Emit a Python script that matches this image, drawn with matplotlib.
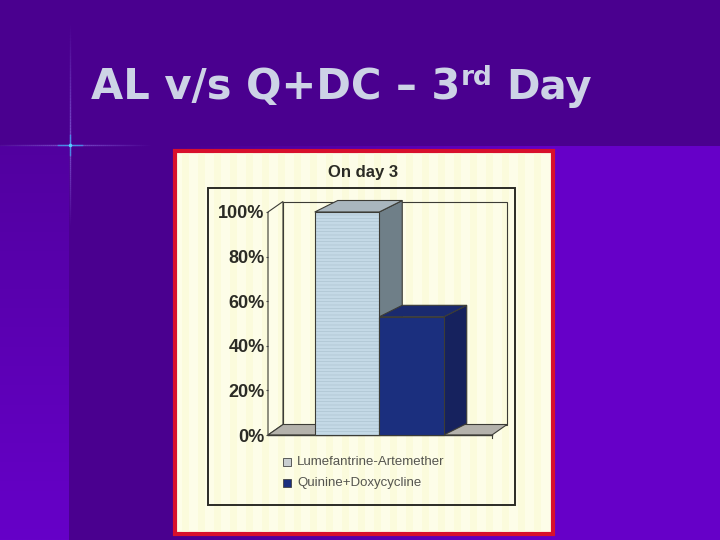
# slide with a scanned 3d bar chart
import numpy as np
import matplotlib
matplotlib.use("Agg")
from matplotlib import pyplot as plt
from matplotlib.patches import Polygon, Rectangle

plt.rcParams["hatch.linewidth"] = 0.4

slide_title = "AL v/s Q+DC – 3"
chart_title = "On day 3"
treatments = ["Lumefantrine-Artemether", "Quinine+Doxycycline"]
percent_day3 = [100, 53]
y_ticks = [0, 20, 40, 60, 80, 100]
y_tick_labels = ["0%", "20%", "40%", "60%", "80%", "100%"]

front_colors = ["#c4d9e6", "#1b2f7e"]
top_colors = ["#a9b6be", "#1a2a6e"]
side_colors = ["#6f7f88", "#16225e"]

W, H = 720, 540
fig = plt.figure(figsize=(7.2, 5.4), dpi=100)

# page layer, works in pixels
bg = fig.add_axes([0, 0, 1, 1])
bg.set_xlim(0, W)
bg.set_ylim(H, 0)
bg.axis("off")

# background
grad = np.linspace(0, 1, 256)
dark = np.array([0x4a, 0x00, 0x90]) / 255
light = np.array([0x66, 0x00, 0xc8]) / 255
bg.imshow((dark + (light - dark) * grad[:, None])[:, None, :], extent=[0, 69, 540, 0], aspect="auto", zorder=0)
bg.imshow((dark + (light - dark) * grad[:, None])[None, :, :], extent=[173, 553, 540, 146], aspect="auto", zorder=0)
bg.add_patch(Rectangle((69, 146), 104, 394, fc="#4a008f", ec="none", zorder=1))
bg.add_patch(Rectangle((553, 146), 167, 394, fc="#6600c8", ec="none", zorder=1))
bg.add_patch(Rectangle((0, 0), 720, 146, fc="#4a008f", ec="none", zorder=1))
bg.set_xlim(0, W)
bg.set_ylim(H, 0)

# the little star
star = "#8a6ae0"
for i in range(40):
    a = 0.75 * (1 - i / 40)
    bg.plot([70 - 2 * i, 70 - 2 * i - 2], [145, 145], color=star, alpha=a, lw=1, zorder=2, solid_capstyle="butt")
    bg.plot([70 + 2 * i, 70 + 2 * i + 2], [145, 145], color=star, alpha=a, lw=1, zorder=2, solid_capstyle="butt")
    bg.plot([70, 70], [145 - 3 * i, 145 - 3 * i - 3], color=star, alpha=a, lw=1, zorder=2, solid_capstyle="butt")
    bg.plot([70, 70], [145 + 2 * i, 145 + 2 * i + 2], color=star, alpha=a, lw=1, zorder=2, solid_capstyle="butt")
bg.plot([58, 82], [145, 145], color="#3aa6f5", alpha=0.7, lw=1, zorder=2)
bg.plot([70, 70], [135, 155], color="#3aa6f5", alpha=0.7, lw=1, zorder=2)
bg.plot([70], [145], "o", ms=2.5, color="#55d0ff", mew=0, zorder=2)

# slide title
title_col = "#cdd3e6"
t_kw = dict(color=title_col, fontweight="bold", family="DejaVu Sans", va="baseline", zorder=3)
bg.text(91, 99, slide_title, fontsize=30, **t_kw)
bg.text(461, 85, "rd", fontsize=19, **t_kw)
bg.text(506, 99, "Day", fontsize=29, **t_kw)

# scanned paper
bg.add_patch(Rectangle((174.5, 150.5), 378, 383, fc="#fdfde8", ec="#d8102c", lw=3, zorder=3))
for sx in range(182, 548, 16):
    bg.add_patch(Rectangle((sx, 153), 7, 379, fc="#fafad2", ec="none", alpha=0.5, zorder=3))
bg.add_patch(Rectangle((208, 188), 307, 317, fc="none", ec="#2b2b25", lw=1.4, zorder=4))
bg.text(363, 172, chart_title, ha="center", va="center", fontsize=12, fontweight="bold",
        family="Liberation Sans", color="#2b2b25", zorder=4)

# chart layer, x in bar widths, y in percent
left, right, base, top = 268, 492, 435, 212
ax = fig.add_axes([left / W, 1 - base / H, (right - left) / W, (base - top) / H])
bar_w = 64.5
ax.set_xlim((left - 347) / bar_w, (right - 347) / bar_w)
ax.set_ylim(0, 100)
ax.patch.set_alpha(0)
for s in ax.spines.values():
    s.set_visible(False)
ax.set_xticks([])
ax.set_yticks(y_ticks)
ax.set_yticklabels(y_tick_labels, fontsize=13, fontweight="bold", family="Liberation Sans", color="#2b2b25")
ax.tick_params(axis="y", length=1.5, width=0.8, color="#444444", pad=1)

x0, x1 = ax.get_xlim()
wall_dx = 15 / bar_w
wall_dy = 10.5 / 2.23
line = "#3c3c36"
poly_kw = dict(closed=True, clip_on=False, lw=0.8, edgecolor=line)
# back wall, side wall and floor
ax.add_patch(Polygon([(x0 + wall_dx, wall_dy), (x1 + wall_dx, wall_dy), (x1 + wall_dx, 100 + wall_dy), (x0 + wall_dx, 100 + wall_dy)],
                     facecolor="none", zorder=1, **poly_kw))
ax.add_patch(Polygon([(x0, 0), (x0 + wall_dx, wall_dy), (x0 + wall_dx, 100 + wall_dy), (x0, 100)],
                     facecolor="none", zorder=1, **poly_kw))
ax.add_patch(Polygon([(x0, 0), (x0 + wall_dx, wall_dy), (x1 + wall_dx, wall_dy), (x1, 0)],
                     facecolor="#b4b2ac", zorder=1, **poly_kw))
ax.plot([x1, x1], [0, -1.2], color=line, lw=0.8, clip_on=False, zorder=1)
ax.plot([x0, x1], [0, 0], color=line, lw=1, clip_on=False, zorder=1)

# bars with depth faces, the scan gives the light one fine lines
depth_dx = 23 / bar_w
depth_dy = 11.5 / 2.23
hatches = ["-----", None]
for i, v in enumerate(percent_day3):
    l, r = i - 0.5, i + 0.5
    ax.add_patch(Polygon([(r, 0), (r + depth_dx, depth_dy), (r + depth_dx, v + depth_dy), (r, v)],
                         facecolor=side_colors[i], zorder=3 + i, **poly_kw))
    ax.add_patch(Polygon([(l, v), (l + depth_dx, v + depth_dy), (r + depth_dx, v + depth_dy), (r, v)],
                         facecolor=top_colors[i], zorder=3 + i, **poly_kw))
    ax.bar(i, v, width=1, color=front_colors[i], edgecolor="#a9bfcc" if i == 0 else line,
           linewidth=0.4, hatch=hatches[i], zorder=3 + i, clip_on=False)
    ax.add_patch(Rectangle((l, 0), 1, v, fc="none", ec=line, lw=0.8, zorder=3 + i, clip_on=False))

# legend
for yy, name, col in zip([462, 483], treatments, ["#c9ced0", "#1b2f7e"]):
    bg.add_patch(Rectangle((283, yy - 4), 8, 8, fc=col, ec="#444444", lw=0.6, zorder=4))
    bg.text(297, yy, name, fontsize=9.5, family="Liberation Sans", color="#55554f", va="center", zorder=4)

fig.savefig("out.png", dpi=100)
